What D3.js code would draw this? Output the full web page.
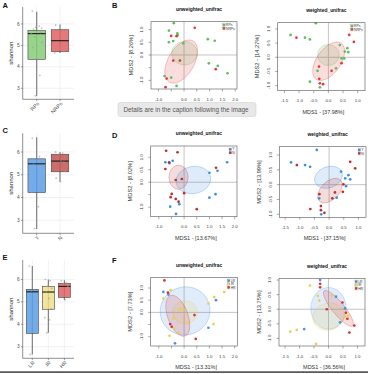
<!DOCTYPE html>
<html><head><meta charset="utf-8">
<script src="https://cdn.jsdelivr.net/npm/d3@7"></script>
<style>body{margin:0;background:#fff}svg{display:block;font-family:"Liberation Sans",Arial,sans-serif}</style>
</head><body><svg id="c" width="368" height="374"></svg>
<script>
// ================= DATA =================
// Box plots: stats = [min, q1, median, q3, max]
const boxTicks = [3, 4, 5, 6];
const catsA = ["RPs", "NRPs"];
const statsA = [[2.64, 4.35, 5.55, 5.69, 6.57], [4.65, 4.71, 5.22, 5.73, 5.97]];
const ptsA = [[6.6, 5.9, 5.85, 5.8, 5.75, 5.7, 5.6, 5.55, 5.5, 5.4, 5.15, 4.9, 4.35, 3.6, 2.65],
              [5.95, 5.75, 5.7, 5.3, 5.15, 4.95, 4.72, 4.65]];
const catsC = ["Y", "N"];
const statsC = [[2.62, 4.22, 5.48, 5.70, 6.65], [4.69, 5.13, 5.60, 5.90, 6.0]];
const ptsC = [[6.6, 5.8, 5.7, 5.55, 5.45, 5.4, 4.3, 4.25, 3.6, 2.65],
              [6.0, 5.95, 5.9, 5.8, 5.7, 5.6, 5.55, 5.45, 5.25, 5.2, 5.15, 4.85, 4.7]];
const catsE = ["LR", "IR", "HR"];
const statsE = [[2.65, 3.59, 5.45, 5.56, 6.6], [3.62, 4.67, 5.44, 5.69, 6.0], [5.08, 5.2, 5.69, 5.82, 5.97]];
const ptsE = [[6.6, 5.55, 5.5, 3.6, 2.65],
              [6.0, 5.95, 5.7, 5.6, 5.45, 5.15, 4.7, 4.3, 4.2, 3.62],
              [5.95, 5.85, 5.8, 5.7, 5.25, 5.1]];
const jitter = [-0.25, 0.15, -0.05, 0.28, -0.18, 0.05, 0.22, -0.3, 0.1, -0.12, 0.3, -0.22, 0.02, 0.18, -0.08];

// PCoA: points [MDS1, MDS2]; ellipse [cx, cy, rx, ry, angleDeg]
const xTicksU = [-1, -0.5, 0, 0.5, 1, 1.5, 2];
const xTicksW = [-1.5, -1, -0.5, 0, 0.5, 1];
const yTicks = [-1, -0.5, 0, 0.5, 1];

const B_unw_RPs = [[-0.40,1.25],[-0.59,0.96],[-0.26,0.85],[-0.42,0.55],[-0.59,0.50],[-0.03,0.46],[0.93,0.62],[1.20,0.56],[0.97,-0.33],[1.32,-0.43],[1.70,-0.72],[-0.76,-0.83],[-0.50,-0.89],[-0.29,-1.22],[-0.25,0.78]];
const B_unw_NRPs = [[0.42,1.07],[-0.50,0.75],[-0.29,0.74],[-0.42,-0.22],[-0.16,-0.22],[1.24,-0.56],[-0.68,-0.93],[-0.72,-1.27]];
const B_unw_ell = [[0.02,0.07,0.50,0.46,0],[-0.11,-0.26,0.93,0.51,-60]];
const B_w_RPs = [[-0.43,1.2],[-1.29,0.79],[-0.8,0.69],[-0.63,0.63],[0.39,0.43],[0.65,0.32],[0.56,0.2],[0.68,0.18],[0.45,-0.04],[0.54,-0.04],[0.26,-0.39],[-0.37,-0.48],[-0.63,-0.86],[-0.29,-1.06]];
const B_w_NRPs = [[-1.09,0.69],[0.71,0.79],[0.87,0.54],[0.45,-0.21],[0.11,-0.48],[-0.32,-0.33],[-0.31,-0.76],[-0.29,-0.92],[-0.18,-0.95]];
const B_w_ell = [[0.0,0.08,0.37,0.36,0],[0.01,-0.14,0.75,0.41,-55]];

const D_unw_Y = [[-0.45,0.86],[-0.74,0.80],[-0.58,0.76],[1.70,0.80],[1.32,0.46],[1.0,0.38],[1.0,-0.62],[1.24,-0.48],[-0.19,-0.88],[-0.55,-0.98],[-0.32,-1.27]];
const D_unw_N = [[-0.71,1.26],[-0.26,1.2],[-0.74,0.53],[-0.59,0.8],[1.26,0.58],[-0.33,0.09],[-0.09,0.13],[0.0,-0.44],[-0.49,-0.47],[-0.53,-0.6],[-0.33,-0.67],[-0.22,-0.78],[0.5,-1.08]];
const D_unw_ell = [[0.37,0.09,0.69,0.54,-10],[-0.22,0.2,0.48,0.38,90]];
const D_w_Y = [[-0.42,1.17],[-1.30,0.75],[-0.82,0.66],[-0.65,0.6],[0.41,0.44],[0.66,0.32],[0.55,0.21],[0.72,0.18],[0.58,-0.05],[0.26,-0.44],[-0.34,-0.46],[-0.27,-1.0]];
const D_w_N = [[-1.10,0.66],[0.72,0.77],[0.89,0.55],[0.49,0.01],[0.2,-0.26],[0.47,-0.24],[-0.33,-0.32],[0.11,-0.46],[-0.64,-0.82],[-0.28,-0.72],[-0.28,-0.86],[-0.16,-0.95]];
const D_w_ell = [[-0.02,0.25,0.49,0.36,-20],[0.03,-0.2,0.51,0.31,-45]];

const F_unw_LR = [[-0.82,0.84],[-0.62,0.73],[1.26,0.5],[0.96,-0.63],[-0.36,-1.27]];
const F_unw_IR = [[-0.53,0.91],[-0.82,0.57],[1.19,0.63],[1.59,0.84],[0.96,0.36],[-0.16,0.13],[-0.05,0.13],[-0.42,-0.25],[0.15,-0.45],[-0.40,-0.66],[-0.23,-0.84],[-0.58,-0.96],[1.16,-0.48]];
const F_unw_HR = [[-0.78,1.31],[-0.64,0.81],[0.41,-0.11],[-0.55,-0.48],[-0.49,-0.59],[0.46,-1.09]];
const F_unw_ell = [[0.04,0.06,0.99,0.95,-20],[0.04,0.0,0.49,0.46,0],[-0.25,-0.14,0.85,0.40,70]];
const F_w_LR = [[-0.29,1.0],[0.26,0.43],[0.57,0.03],[0.4,-0.45],[-0.84,-0.68]];
const F_w_IR = [[-0.64,0.81],[-0.37,0.46],[-0.32,0.3],[0.11,0.47],[0.68,-0.22],[0.57,-0.25],[-1.1,-0.71],[-1.32,-0.77],[-0.43,-1.19]];
const F_w_HR = [[-0.29,0.87],[-0.29,0.75],[0.48,0.23],[-0.06,0.0],[0.6,-0.12],[0.65,-0.33],[0.89,-0.56],[0.72,-0.8]];
const F_w_ell = [[0.0,0.03,0.61,0.72,0],[0.0,-0.25,0.55,0.47,-15],[0.34,0.03,0.78,0.21,51]];

// ================= DRAW =================
const svg = d3.select("#c");
svg.append("rect").attr("width",368).attr("height",374).attr("fill","#fff");

function boxPanel(c){
  const g = svg.append("g");
  const x = d3.scalePoint().domain(c.cats).range([c.xl, c.xr]).padding(0.6);
  const y = d3.scaleLinear().domain(c.yDomain).range([c.bottom, c.top]);
  const bw = x.step()*0.75;
  boxTicks.forEach(t=>g.append("line").attr("x1",c.xl).attr("x2",c.xr).attr("y1",y(t)).attr("y2",y(t)).attr("stroke","#ebebeb").attr("stroke-width",0.7));
  c.cats.forEach(k=>g.append("line").attr("x1",x(k)).attr("x2",x(k)).attr("y1",c.top).attr("y2",c.bottom).attr("stroke","#ebebeb").attr("stroke-width",0.7));
  c.cats.forEach((k,i)=>{
    const s = c.stats[i], cx = x(k);
    g.append("line").attr("x1",cx).attr("x2",cx).attr("y1",y(s[0])).attr("y2",y(s[4])).attr("stroke","#777").attr("stroke-width",1.1);
    g.append("rect").attr("x",cx-bw/2).attr("width",bw).attr("y",y(s[3])).attr("height",y(s[1])-y(s[3]))
      .attr("fill",c.fills[i]).attr("fill-opacity",0.85).attr("stroke","#444").attr("stroke-width",0.6);
    g.append("line").attr("x1",cx-bw/2).attr("x2",cx+bw/2).attr("y1",y(s[2])).attr("y2",y(s[2])).attr("stroke","#222").attr("stroke-width",1.2);
    c.pts[i].forEach((v,j)=>g.append("circle").attr("cx",cx+jitter[j%jitter.length]*bw).attr("cy",y(v)).attr("r",0.9).attr("fill","#999").attr("fill-opacity",0.6));
  });
  g.append("line").attr("x1",c.xl).attr("x2",c.xl).attr("y1",c.top).attr("y2",c.bottom).attr("stroke","#444").attr("stroke-width",0.6);
  g.append("line").attr("x1",c.xl).attr("x2",c.xr).attr("y1",c.bottom).attr("y2",c.bottom).attr("stroke","#444").attr("stroke-width",0.6);
  boxTicks.forEach(t=>{
    g.append("line").attr("x1",c.xl-1.8).attr("x2",c.xl).attr("y1",y(t)).attr("y2",y(t)).attr("stroke","#444").attr("stroke-width",0.5);
    g.append("text").attr("x",c.xl-3).attr("y",y(t)+1.6).attr("text-anchor","end").attr("font-size",4.8).attr("fill","#4d4d4d").text(t);
  });
  c.cats.forEach(k=>{
    g.append("line").attr("x1",x(k)).attr("x2",x(k)).attr("y1",c.bottom).attr("y2",c.bottom+1.8).attr("stroke","#444").attr("stroke-width",0.5);
    g.append("text").attr("transform",`translate(${x(k)+1.5},${c.bottom+3.5}) rotate(-45)`).attr("text-anchor","end").attr("dy","0.35em")
      .attr("font-size",5.3).attr("fill","#4d4d4d").text(k);
  });
  g.append("text").attr("transform",`translate(${c.xl-10},${(c.top+c.bottom)/2}) rotate(-90)`).attr("text-anchor","middle")
    .attr("font-size",6).attr("fill","#222").text("shannon");
}

boxPanel({cats:catsA, stats:statsA, pts:ptsA, fills:["#86cc78","#e06262"], xl:22.7, xr:74, top:7, bottom:99.3, yDomain:[2.487,6.79]});
boxPanel({cats:catsC, stats:statsC, pts:ptsC, fills:["#5c9de6","#c4524f"], xl:22.7, xr:74, top:133.3, bottom:233.3, yDomain:[2.43,6.82]});
boxPanel({cats:catsE, stats:statsE, pts:ptsE, fills:["#5c9de6","#f0df88","#e06060"], xl:22.7, xr:74, top:260, bottom:358.3, yDomain:[2.48,6.87]});

function scatter(c){
  const g = svg.append("g");
  const [x0,x1,y0,y1] = c.frame;
  const x = d3.scaleLinear().domain(c.xDomain).range([x0,x1]);
  const y = d3.scaleLinear().domain(c.yDomain).range([y1,y0]);
  const k = x(1)-x(0);
  g.append("line").attr("x1",x(0)).attr("x2",x(0)).attr("y1",y0).attr("y2",y1).attr("stroke","#c4c4c4").attr("stroke-width",1);
  g.append("line").attr("x1",x0).attr("x2",x1).attr("y1",y(0)).attr("y2",y(0)).attr("stroke","#c4c4c4").attr("stroke-width",1);
  c.groups.forEach(gr=>{
    const [cx,cy,rx,ry,a] = gr.ell;
    g.append("ellipse").attr("cx",x(cx)).attr("cy",y(cy)).attr("rx",rx*k).attr("ry",ry*k)
      .attr("transform",`rotate(${a},${x(cx)},${y(cy)})`).attr("fill",gr.color).attr("fill-opacity",0.17)
      .attr("stroke",gr.color).attr("stroke-opacity",0.45).attr("stroke-width",0.6);
  });
  c.groups.forEach(gr=>{
    gr.pts.forEach(p=>g.append("circle").attr("cx",x(p[0])).attr("cy",y(p[1])).attr("r",1.35).attr("fill",gr.color));
  });
  g.append("rect").attr("x",x0).attr("y",y0).attr("width",x1-x0).attr("height",y1-y0).attr("fill","none").attr("stroke","#555").attr("stroke-width",0.6);
  c.xTicks.forEach(t=>{
    g.append("line").attr("x1",x(t)).attr("x2",x(t)).attr("y1",y1).attr("y2",y1+2.5).attr("stroke","#555").attr("stroke-width",0.5);
    if(!c.xSkip.includes(t)) g.append("text").attr("x",x(t)).attr("y",y1+11.6).attr("text-anchor","middle").attr("font-size",4.3).attr("fill","#333").text(d3.format(".1f")(t).replace("−","-"));
  });
  yTicks.forEach(t=>{
    g.append("line").attr("x1",x0-2.5).attr("x2",x0).attr("y1",y(t)).attr("y2",y(t)).attr("stroke","#555").attr("stroke-width",0.5);
    if(!c.ySkip.includes(t)) g.append("text").attr("transform",`translate(${x0-7.8},${y(t)}) rotate(-90)`).attr("text-anchor","middle").attr("font-size",4.3).attr("fill","#333").text(d3.format(".1f")(t).replace("−","-"));
  });
  g.append("text").attr("x",(x0+x1)/2+5).attr("y",y0-10.8).attr("text-anchor","middle").attr("font-size",4.9).attr("font-weight","bold").attr("fill","#111").text(c.title);
  if(c.xTitle) g.append("text").attr("x",(x0+x1)/2+2).attr("y",y1+22.8).attr("text-anchor","middle").attr("font-size",5.5).attr("fill","#333").text(c.xTitle);
  g.append("text").attr("transform",`translate(${x0-18.5},${(y0+y1)/2}) rotate(-90)`).attr("text-anchor","middle").attr("font-size",5.7).attr("fill","#333").text(c.yTitle);
  const fs = 3.4, rh = 3.4;
  const tw = d3.max(c.groups, gr=>gr.name.length)*fs*0.62;
  const lw = 2.4+1.2+tw+1.5, lx = x1-1.5-lw, ly = y0+1.2;
  g.append("rect").attr("x",lx).attr("y",ly).attr("width",lw).attr("height",c.groups.length*rh+1).attr("fill","#fff").attr("stroke","#ddd").attr("stroke-width",0.3);
  c.groups.forEach((gr,i)=>{
    g.append("rect").attr("x",lx+0.8).attr("y",ly+0.6+i*rh+0.3).attr("width",2.4).attr("height",2.4).attr("fill",gr.color).attr("stroke","#666").attr("stroke-width",0.2);
    g.append("text").attr("x",lx+4).attr("y",ly+0.6+i*rh+2.6).attr("font-size",fs).attr("fill","#333").text(gr.name);
  });
}

const gG = "#5cc05c", gR = "#e23b3b", dB = "#3d8ee3", dR = "#b8302f", fB = "#4a91e3", fY = "#e8cf55", fR = "#d8342f";

// B-left x-axis title is hidden behind the caption overlay in the reference
scatter({frame:[151,237,21.7,89], xDomain:[-1.29,2.07], yDomain:[-1.34,1.31], xTicks:xTicksU, xSkip:[-0.5], ySkip:[-0.5],
  title:"unweighted_unifrac", xTitle:"", yTitle:"MDS2 - [8.26%]",
  groups:[{name:"RPs",color:gG,pts:B_unw_RPs,ell:B_unw_ell[0]},{name:"NRPs",color:gR,pts:B_unw_NRPs,ell:B_unw_ell[1]}]});
scatter({frame:[277.7,365,22.7,90.7], xDomain:[-1.73,1.25], yDomain:[-1.18,1.22], xTicks:xTicksW, xSkip:[], ySkip:[],
  title:"weighted_unifrac", xTitle:"MDS1 - [37.98%]", yTitle:"MDS2 - [14.27%]",
  groups:[{name:"RPs",color:gG,pts:B_w_RPs,ell:B_w_ell[0]},{name:"NRPs",color:gR,pts:B_w_NRPs,ell:B_w_ell[1]}]});
scatter({frame:[150.7,237,146,216.7], xDomain:[-1.32,2.09], yDomain:[-1.38,1.45], xTicks:xTicksU, xSkip:[-0.5], ySkip:[-0.5],
  title:"unweighted_unifrac", xTitle:"MDS1 - [13.67%]", yTitle:"MDS2 - [8.02%]",
  groups:[{name:"Y",color:dB,pts:D_unw_Y,ell:D_unw_ell[0]},{name:"N",color:dR,pts:D_unw_N,ell:D_unw_ell[1]}]});
scatter({frame:[279.3,366,146.7,217.3], xDomain:[-1.70,1.26], yDomain:[-1.10,1.28], xTicks:xTicksW, xSkip:[], ySkip:[],
  title:"weighted_unifrac", xTitle:"MDS1 - [37.15%]", yTitle:"MDS2 - [13.99%]",
  groups:[{name:"Y",color:dB,pts:D_w_Y,ell:D_w_ell[0]},{name:"N",color:dR,pts:D_w_N,ell:D_w_ell[1]}]});
scatter({frame:[150.7,237.5,277.3,346], xDomain:[-1.32,2.11], yDomain:[-1.38,1.44], xTicks:xTicksU, xSkip:[-0.5], ySkip:[-0.5],
  title:"unweighted_unifrac", xTitle:"MDS1 - [13.31%]", yTitle:"MDS2 - [7.73%]",
  groups:[{name:"LR",color:fB,pts:F_unw_LR,ell:F_unw_ell[0]},{name:"IR",color:fY,pts:F_unw_IR,ell:F_unw_ell[1]},{name:"HR",color:fR,pts:F_unw_HR,ell:F_unw_ell[2]}]});
scatter({frame:[279,365,278.3,346], xDomain:[-1.71,1.26], yDomain:[-1.26,1.06], xTicks:xTicksW, xSkip:[], ySkip:[],
  title:"weighted_unifrac", xTitle:"MDS1 - [36.56%]", yTitle:"MDS2 - [13.75%]",
  groups:[{name:"LR",color:fB,pts:F_w_LR,ell:F_w_ell[0]},{name:"IR",color:fY,pts:F_w_IR,ell:F_w_ell[1]},{name:"HR",color:fR,pts:F_w_HR,ell:F_w_ell[2]}]});

[["A",2.5,8],["C",2.5,133],["E",2.5,260],["B",112,8],["D",112,138],["F",112,263]].forEach(([t,x,y])=>
  svg.append("text").attr("x",x).attr("y",y).attr("font-size",7.5).attr("font-weight","bold").attr("fill","#111").text(t));

svg.append("rect").attr("x",118).attr("y",102.5).attr("width",138).attr("height",14).attr("rx",2.5).attr("fill","#e8e8e8").attr("stroke","#d2d2d2").attr("stroke-width",0.6);
svg.append("text").attr("x",123.5).attr("y",111.8).attr("font-size",6.3).attr("fill","#555").text("Details are in the caption following the image");

svg.append("rect").attr("x",0).attr("y",371.3).attr("width",368).attr("height",1.6).attr("fill","#4a4a4a");
</script></body></html>
